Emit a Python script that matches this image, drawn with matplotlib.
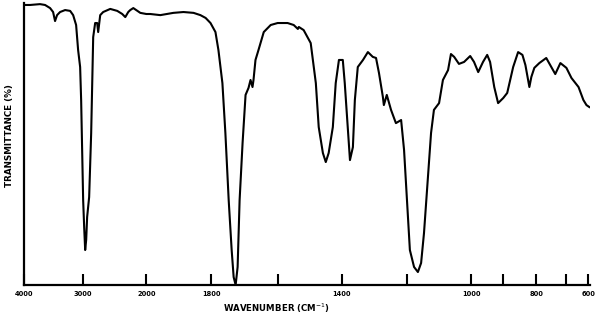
import numpy as np
import matplotlib
matplotlib.use("Agg")
import matplotlib.pyplot as plt
from matplotlib.ticker import FixedLocator, FixedFormatter

# Chart-paper axis: wavenumber ticks and their (nonlinear) paper positions
tick_wn = [4000, 3000, 2000, 1800, 1600, 1400, 1200, 1000, 900, 800, 700, 600]
tick_labels = ["4000", "3000", "2000", "1800", "", "1400", "", "1000", "", "800", "", "600"]
paper_pos = [0, 59, 122, 187, 253, 317, 382, 446, 478, 511, 541, 563]

# Spectrum (wavenumber cm-1, transmittance %)
wavenumber = [4000, 3898, 3729, 3644, 3559, 3508, 3475, 3441, 3390, 3305, 3220, 3169,
              3119, 3085, 3051, 3034, 3017, 3000, 2984, 2968, 2952, 2937, 2905, 2873,
              2857, 2841, 2810, 2778, 2762, 2730, 2683, 2571, 2460, 2381, 2333, 2286,
              2254, 2206, 2095, 2000, 1988, 1957, 1917, 1886, 1855, 1834, 1818, 1803,
              1788, 1779, 1767, 1758, 1748, 1739, 1733, 1727, 1721, 1715, 1706, 1697,
              1688, 1682, 1676, 1673, 1667, 1658, 1642, 1621, 1600, 1569, 1550, 1537,
              1534, 1519, 1497, 1481, 1472, 1459, 1450, 1441, 1428, 1419, 1409, 1397,
              1391, 1382, 1375, 1366, 1360, 1351, 1335, 1320, 1305, 1295, 1286, 1274,
              1271, 1262, 1249, 1234, 1218, 1209, 1200, 1191, 1178, 1166, 1156, 1147,
              1134, 1125, 1116, 1100, 1088, 1072, 1063, 1053, 1038, 1022, 1003, 991,
              978, 963, 950, 941, 928, 916, 900, 888, 870, 855, 842, 833, 821, 815,
              806, 790, 767, 750, 737, 720, 700, 677, 645, 623, 609, 596]
transmittance = [99.3, 99.3, 99.6, 99.3, 98.2, 96.8, 93.6, 95.7, 96.8, 97.5, 97.2, 95.7,
                 92.2, 83.3, 77.3, 65.6, 47.9, 30.1, 20.6, 12.4, 16.0, 24.1, 31.2, 53.9,
                 71.6, 87.9, 92.9, 92.9, 89.7, 95.7, 96.8, 97.9, 97.2, 96.1, 95.0, 96.8,
                 97.5, 98.2, 96.5, 96.1, 96.1, 95.7, 96.5, 96.8, 96.5, 95.7, 94.7, 92.9,
                 89.7, 83.3, 71.6, 53.9, 30.1, 12.4, 2.8, 0.0, 6.4, 30.1, 50.4, 67.4,
                 69.9, 72.7, 70.2, 72.7, 79.8, 83.3, 89.7, 92.2, 92.9, 92.9, 92.2, 90.8,
                 91.5, 90.4, 85.8, 71.6, 56.0, 46.8, 43.6, 46.8, 56.0, 71.6, 79.8, 79.8,
                 71.6, 56.0, 44.3, 48.9, 65.6, 77.3, 79.8, 82.6, 80.9, 80.5, 75.2, 66.7,
                 63.8, 67.4, 62.1, 57.4, 58.5, 47.9, 30.1, 12.4, 6.4, 4.6, 7.8, 18.4,
                 39.7, 53.9, 62.1, 64.5, 72.7, 76.2, 81.9, 80.9, 78.4, 79.1, 81.2, 79.1,
                 75.5, 79.1, 81.6, 79.1, 70.2, 64.5, 66.3, 68.1, 77.3, 82.6, 81.6, 78.0,
                 70.2, 73.8, 77.0, 78.7, 80.5, 77.3, 74.8, 78.7, 77.0, 73.4, 70.2, 65.6,
                 63.8, 63.1]

# increasing knots: wavenumber ascending -> negative paper position ascending
kw = np.array(tick_wn[::-1], dtype=float)
kp = -np.array(paper_pos[::-1], dtype=float)


def _pl(x, xs, ys):
    x = np.asarray(x, dtype=float)
    y = np.interp(x, xs, ys)
    y = np.where(x < xs[0], ys[0] + (x - xs[0]) * (ys[1] - ys[0]) / (xs[1] - xs[0]), y)
    y = np.where(x > xs[-1], ys[-1] + (x - xs[-1]) * (ys[-1] - ys[-2]) / (xs[-1] - xs[-2]), y)
    return y


def fwd(x):
    return _pl(x, kw, kp)


def inv(p):
    return _pl(p, kp, kw)


fig = plt.figure(figsize=(5.99, 3.17), dpi=100)
ax = fig.add_axes([24 / 599, 32 / 317, 566 / 599, 282 / 317])
ax.set_xscale("function", functions=(fwd, inv))
ax.plot(wavenumber, transmittance, color="black", lw=1.5)
ax.set_xlim(4000, 593)
ax.set_ylim(0, 100)

ax.xaxis.set_major_locator(FixedLocator(tick_wn))
ax.xaxis.set_major_formatter(FixedFormatter(tick_labels))
ax.xaxis.set_minor_locator(FixedLocator([]))
ax.tick_params(axis="x", direction="in", length=8, width=1.5, pad=4,
               labelsize=4.8, colors="black")
for lab in ax.get_xticklabels():
    lab.set_fontweight("bold")
ax.set_yticks([])
for s in ["top", "right"]:
    ax.spines[s].set_visible(False)
for s in ["left", "bottom"]:
    ax.spines[s].set_linewidth(1.6)

fig.text(276 / 599, 1 - 308 / 317, "WAVENUMBER (CM$^{-1}$)",
         ha="center", va="center", fontsize=6.2, fontweight="bold")
fig.text(10 / 599, 1 - 136 / 317, "TRANSMITTANCE (%)", rotation=90,
         ha="center", va="center", fontsize=6.3, fontweight="bold")

fig.savefig("out.png", dpi=100)
